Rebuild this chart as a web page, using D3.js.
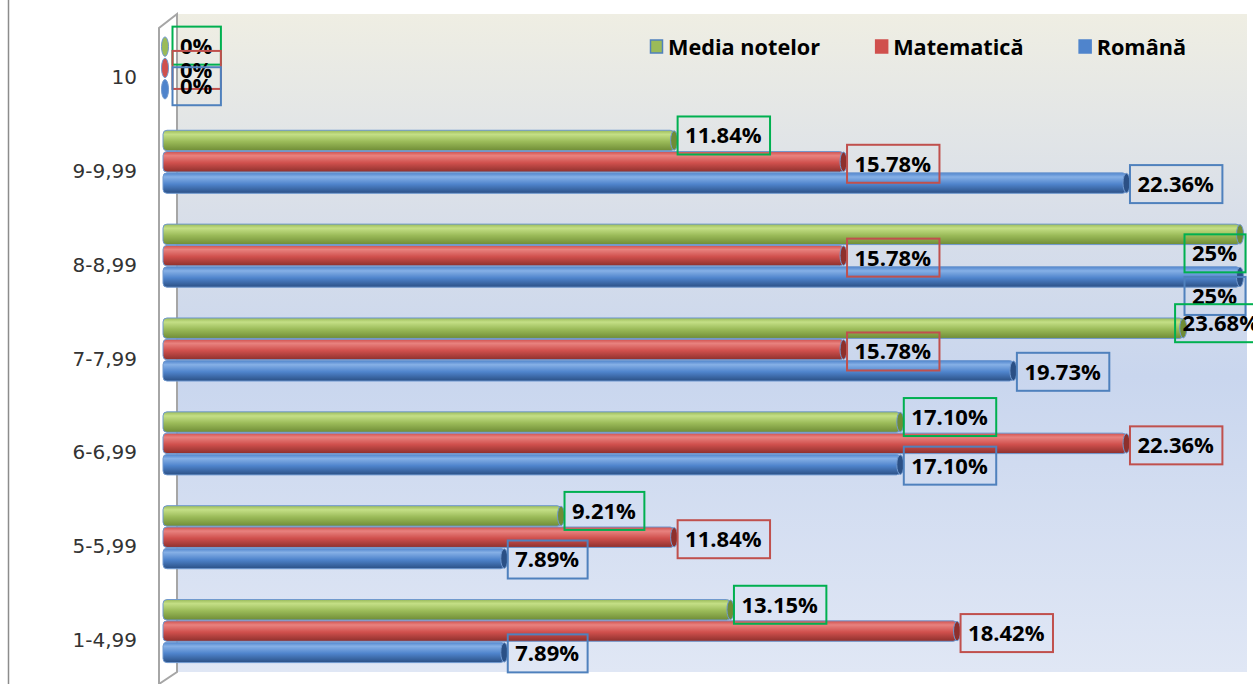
<!DOCTYPE html>
<html>
<head>
<meta charset="utf-8">
<script src="https://cdn.jsdelivr.net/npm/d3@7"></script>
<style>
  body { margin: 0; background: #fff; }
  svg { display: block; }
</style>
</head>
<body>
<div id="chart"></div>
<script>
// data
const categories = ["10", "9-9,99", "8-8,99", "7-7,99", "6-6,99", "5-5,99", "1-4,99"];
const seriesNames = ["Media notelor", "Matematică", "Română"];
const mediaValues = [0, 11.84, 25, 23.68, 17.10, 9.21, 13.15];
const mateValues = [0, 15.78, 15.78, 15.78, 22.36, 11.84, 18.42];
const romanaValues = [0, 22.36, 25, 19.73, 17.10, 7.89, 7.89];

const width = 1253, height = 684;

const svg = d3.select("#chart")
  .append("svg")
  .attr("width", width)
  .attr("height", height);

const defs = svg.append("defs");

// colours for each series: [light top, main, dark bottom, label border]
const palette = {
  "Media notelor": ["#c4df86", "#9bbb59", "#6f8c36", "#00b050"],
  "Matematică": ["#e8827f", "#d0504d", "#8d302d", "#c0504d"],
  "Română": ["#86b0e6", "#4f84cc", "#2b5085", "#4f81bd"]
};

// back wall gradient
const wall = defs.append("linearGradient")
  .attr("id", "wall").attr("x1", 0).attr("y1", 0).attr("x2", 0).attr("y2", 1);
[[0, "#efeee3"], [0.3, "#d9dfe9"], [0.55, "#c9d6ee"], [1, "#e0e7f5"]]
  .forEach(s => wall.append("stop").attr("offset", s[0]).attr("stop-color", s[1]));

seriesNames.forEach((s, i) => {
  const c = palette[s];
  const g = defs.append("linearGradient")
    .attr("id", "cyl" + i).attr("x1", 0).attr("y1", 0).attr("x2", 0).attr("y2", 1);
  g.append("stop").attr("offset", 0).attr("stop-color", c[1]);
  g.append("stop").attr("offset", 0.2).attr("stop-color", c[0]);
  g.append("stop").attr("offset", 0.55).attr("stop-color", c[1]);
  g.append("stop").attr("offset", 1).attr("stop-color", c[2]);
});

// chart border (left edge)
svg.append("line")
  .attr("x1", 8.5).attr("x2", 8.5).attr("y1", 0).attr("y2", height)
  .attr("stroke", "#8c8c8c").attr("stroke-width", 1.5);

// back wall
svg.append("rect")
  .attr("x", 177).attr("y", 14)
  .attr("width", 1070).attr("height", 658)
  .attr("fill", "url(#wall)");

// side wall
svg.append("path")
  .attr("d", "M159,684 L159,28 L177,14 L177,672 L159,684")
  .attr("fill", "#fff")
  .attr("stroke", "#a6a6a6").attr("stroke-width", 2);

const x = d3.scaleLinear().domain([0, 25]).range([165, 1240]);

const y = d3.scaleBand()
  .domain(categories)
  .range([21, 678])
  .paddingInner(0.31)
  .paddingOuter(0.155);

const ySub = d3.scaleBand()
  .domain(seriesNames)
  .range([0, y.bandwidth()])
  .padding(0.04);

const rows = [];
categories.forEach((cat, i) => {
  [mediaValues, mateValues, romanaValues].forEach((vals, k) => {
    rows.push({ cat: cat, series: seriesNames[k], k: k, value: vals[i] });
  });
});

// category labels
svg.append("g")
  .selectAll("text")
  .data(categories)
  .join("text")
    .attr("x", 137)
    .attr("y", d => y(d) + y.bandwidth() / 2 + 9)
    .attr("dy", "0.35em")
    .attr("text-anchor", "end")
    .style("font-family", "DejaVu Sans")
    .style("font-size", "20px")
    .style("fill", "#333")
    .text(d => d);

// bars as cylinders
const bh = ySub.bandwidth();
const bars = svg.append("g")
  .selectAll("g")
  .data(rows)
  .join("g")
    .attr("transform", d => `translate(0,${y(d.cat) + ySub(d.series)})`);

bars.filter(d => d.value > 0)
  .append("rect")
    .attr("x", x(0) - 2)
    .attr("y", 0)
    .attr("width", d => x(d.value) - x(0) + 2)
    .attr("height", bh)
    .attr("rx", 4)
    .attr("fill", d => `url(#cyl${d.k})`)
    .attr("stroke", "#6f98cf")
    .attr("stroke-width", 1);

// end caps
bars.append("ellipse")
  .attr("cx", d => x(d.value))
  .attr("cy", bh / 2)
  .attr("rx", 3.5)
  .attr("ry", bh / 2 - 0.5)
  .attr("fill", d => palette[d.series][d.value > 0 ? 2 : 1])
  .attr("stroke", "#6f98cf")
  .attr("stroke-width", 1);

// value labels in boxes
const fmt = v => (v % 1 === 0 ? v : v.toFixed(2)) + "%";
const maxVal = d3.max(rows, d => d.value);
const seriesDy = [-5, 2, 1];

const labels = svg.append("g")
  .selectAll("g")
  .data(rows)
  .join("g");

labels.append("text")
  .attr("text-anchor", "middle")
  .attr("dy", "0.36em")
  .style("font-family", "Open Sans")
  .style("font-weight", "bold")
  .style("font-size", "22px")
  .style("fill", "#000")
  .text(d => fmt(d.value));

labels.each(function(d) {
  const g = d3.select(this);
  const w = g.select("text").node().getComputedTextLength() + 16;
  const h = 38;
  const end = x(d.value);
  let bx = end + (d.value === 0 ? 7 : 3);
  let cy = y(d.cat) + ySub(d.series) + bh / 2 + seriesDy[d.k];
  if (d.value === 0) cy += 4 - 4 * d.k;
  if (d.value === maxVal) {
    // longest bars: label pulled back under the bar end
    bx = end + 5 - w;
    cy = y(d.cat) + ySub(d.series) + bh / 2 + 19;
  } else if (bx + w > 1267) {
    bx = 1267 - w;
  }
  g.attr("transform", `translate(${bx},${cy})`);
  g.select("text").attr("x", w / 2);
  g.insert("rect", "text")
    .attr("x", 0.5).attr("y", -h / 2)
    .attr("width", w).attr("height", h)
    .attr("fill", "none")
    .attr("stroke", palette[d.series][3])
    .attr("stroke-width", 2);
});

// legend
const legend = svg.append("g").attr("transform", "translate(650,47)");
let lx = 0;
seriesNames.forEach((s, i) => {
  const item = legend.append("g").attr("transform", `translate(${lx},0)`);
  item.append("rect")
    .attr("x", 0.5).attr("y", -7)
    .attr("width", 12).attr("height", 13)
    .attr("fill", palette[s][1])
    .attr("stroke", i === 0 ? "#4f81bd" : palette[s][1])
    .attr("stroke-width", 1.5);
  const t = item.append("text")
    .attr("x", 18)
    .attr("dy", "0.35em")
    .style("font-family", "Open Sans")
    .style("font-weight", "bold")
    .style("font-size", "21.7px")
    .style("fill", "#000")
    .text(s);
  lx += 18 + t.node().getComputedTextLength() + 55;
});
</script>
</body>
</html>
